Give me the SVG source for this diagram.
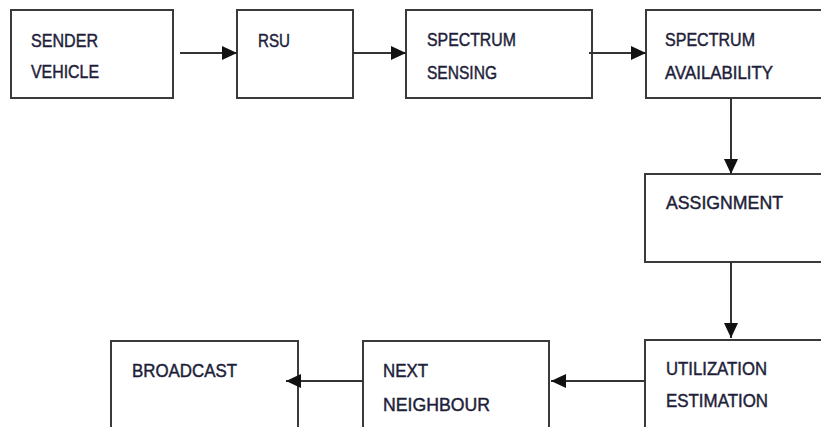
<svg xmlns="http://www.w3.org/2000/svg" width="821" height="427" viewBox="0 0 821 427">
<style>
.box{fill:#fff;stroke:#3a3a3a;stroke-width:2}
.lbl{font-family:"Liberation Sans",Arial,sans-serif;font-size:18px;fill:#1e1e3a;stroke:#1e1e3a;stroke-width:0.45}
.con{stroke:#333;stroke-width:2;fill:none;marker-end:url(#ah)}
</style>
<defs>
<marker id="ah" markerUnits="userSpaceOnUse" markerWidth="16" markerHeight="14" refX="15" refY="7" orient="auto">
<path d="M0,0 L15,7 L0,14 Z" fill="#111"/>
</marker>
</defs>
<rect width="821" height="427" fill="#fff"/>
<g id="sender">
<rect class="box" x="11" y="10" width="162" height="88"/>
<text class="lbl" x="31" y="47" textLength="67" lengthAdjust="spacingAndGlyphs">SENDER</text>
<text class="lbl" x="31" y="78" textLength="68" lengthAdjust="spacingAndGlyphs">VEHICLE</text>
</g>
<g id="rsu">
<rect class="box" x="237" y="10" width="116" height="88"/>
<text class="lbl" x="258" y="47" textLength="32" lengthAdjust="spacingAndGlyphs">RSU</text>
</g>
<g id="sensing">
<rect class="box" x="406" y="10" width="186" height="88"/>
<text class="lbl" x="427" y="46" textLength="89" lengthAdjust="spacingAndGlyphs">SPECTRUM</text>
<text class="lbl" x="427" y="79" textLength="70" lengthAdjust="spacingAndGlyphs">SENSING</text>
</g>
<g id="availability">
<rect class="box" x="646" y="10" width="200" height="88"/>
<text class="lbl" x="665" y="46" textLength="90" lengthAdjust="spacingAndGlyphs">SPECTRUM</text>
<text class="lbl" x="665" y="79" textLength="108" lengthAdjust="spacingAndGlyphs">AVAILABILITY</text>
</g>
<g id="assignment">
<rect class="box" x="645" y="174" width="200" height="88"/>
<text class="lbl" x="666" y="209" textLength="117" lengthAdjust="spacingAndGlyphs">ASSIGNMENT</text>
</g>
<g id="utilization">
<rect class="box" x="645" y="340" width="200" height="100"/>
<text class="lbl" x="666" y="375" textLength="101" lengthAdjust="spacingAndGlyphs">UTILIZATION</text>
<text class="lbl" x="666" y="407" textLength="102" lengthAdjust="spacingAndGlyphs">ESTIMATION</text>
</g>
<g id="neighbour">
<rect class="box" x="363" y="341" width="186" height="100"/>
<text class="lbl" x="383" y="377" textLength="45" lengthAdjust="spacingAndGlyphs">NEXT</text>
<text class="lbl" x="383" y="411" textLength="107" lengthAdjust="spacingAndGlyphs">NEIGHBOUR</text>
</g>
<g id="broadcast">
<rect class="box" x="111" y="341" width="187" height="100"/>
<text class="lbl" x="132" y="377" textLength="105" lengthAdjust="spacingAndGlyphs">BROADCAST</text>
</g>
<g id="connectors">
<line class="con" x1="180" y1="53" x2="237" y2="53"/>
<line class="con" x1="353" y1="53" x2="406" y2="53"/>
<line class="con" x1="589" y1="53" x2="646" y2="53"/>
<line class="con" x1="731" y1="98" x2="731" y2="174"/>
<line class="con" x1="731" y1="262" x2="731" y2="338"/>
<line class="con" x1="645" y1="381" x2="551" y2="381"/>
<line class="con" x1="363" y1="381" x2="286" y2="381"/>
</g>
</svg>
